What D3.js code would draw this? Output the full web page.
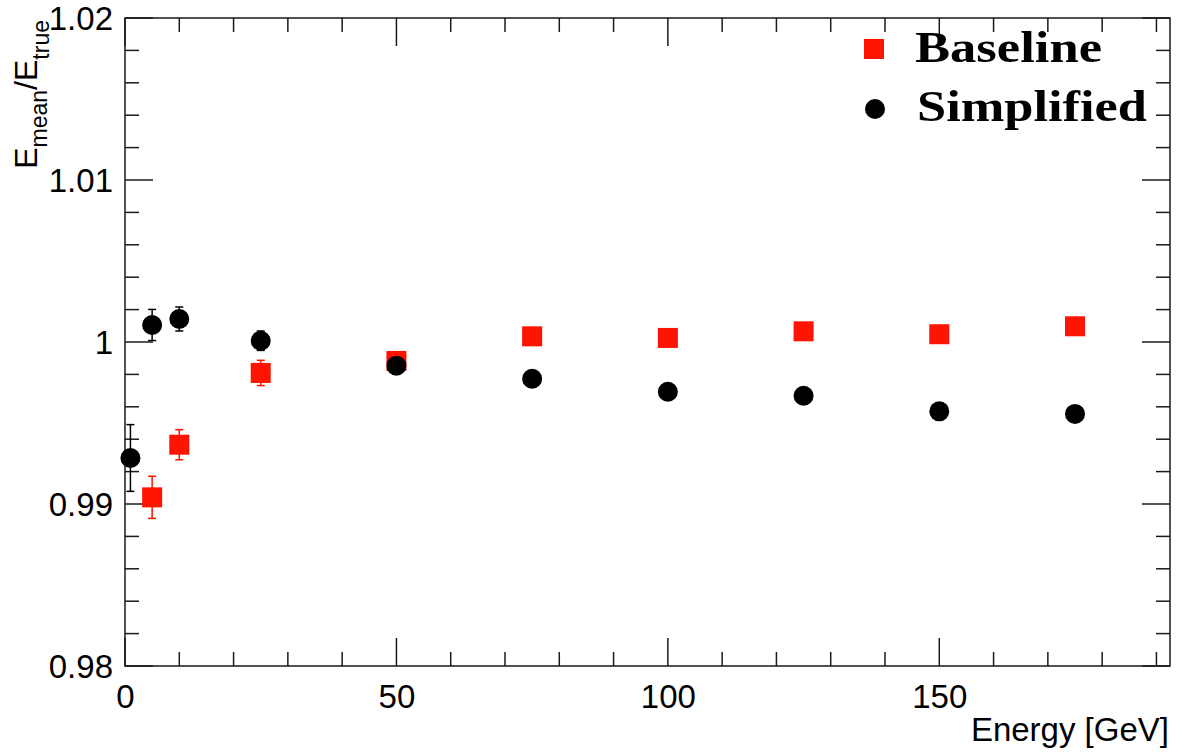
<!DOCTYPE html>
<html>
<head>
<meta charset="utf-8">
<script src="https://cdn.jsdelivr.net/npm/d3@7"></script>
<style>
  html, body { margin: 0; padding: 0; background: #fff; }
  svg { display: block; }
</style>
</head>
<body>
<svg id="chart" width="1178" height="752"></svg>
<script>
// ---- data ----
const simplifiedEnergy = [1, 5, 10, 25, 50, 75, 100, 125, 150, 175];
const simplifiedValue  = [0.99284, 1.00105, 1.00142, 1.00008, 0.99854, 0.99773, 0.99693, 0.99668, 0.99572, 0.99556];
const simplifiedError  = [0.00206, 0.00096, 0.00074, 0.0006, 0.0005, 0.0005, 0.0005, 0.0005, 0.0005, 0.0005];

const baselineEnergy = [5, 10, 25, 50, 75, 100, 125, 150, 175];
const baselineValue  = [0.99041, 0.99366, 0.99809, 0.99883, 1.00035, 1.00025, 1.00066, 1.00048, 1.00097];
const baselineError  = [0.0013, 0.00093, 0.00078, 0.0005, 0.0005, 0.0005, 0.0005, 0.0005, 0.0005];

const xTickLabels = [0, 50, 100, 150];
const yTickLabels = [0.98, 0.99, 1.00, 1.01, 1.02];
const xDomain = [0, 192.5];
const yDomain = [0.98, 1.02];
const seriesNames = ["Baseline", "Simplified"];

// ---- layout ----
const svg = d3.select("#chart");
const L = 125, R = 1170, T = 18, B = 666;
const x = d3.scaleLinear().domain(xDomain).range([L, R]);
const y = d3.scaleLinear().domain(yDomain).range([B, T]);
const red = "#ff1400";
const axisColor = "#1a1a1a";
const sansFont = "'Liberation Sans', Arial, Helvetica, sans-serif";

// frame
svg.append("rect").attr("x", L).attr("y", T).attr("width", R - L).attr("height", B - T)
  .attr("fill", "none").attr("stroke", axisColor).attr("stroke-width", 1.5);

const majorLen = 28, minorLen = 14;
const xMinor = d3.range(0, 192.5, 10);
const yMinor = d3.range(0, 21).map(i => 0.98 + i * 0.002);

function isMajorX(v) { return Math.abs(v % 50) < 1e-9; }
function isMajorY(v) { return Math.abs(Math.round(v * 100) - v * 100) < 1e-6; }

// ticks on all four sides
const gT = svg.append("g").attr("stroke", axisColor).attr("stroke-width", 1.5);
xMinor.forEach(v => {
  const len = isMajorX(v) ? majorLen : minorLen;
  gT.append("line").attr("x1", x(v)).attr("x2", x(v)).attr("y1", B).attr("y2", B - len);
  gT.append("line").attr("x1", x(v)).attr("x2", x(v)).attr("y1", T).attr("y2", T + len);
});
yMinor.forEach(v => {
  const len = isMajorY(v) ? majorLen : minorLen;
  gT.append("line").attr("x1", L).attr("x2", L + len).attr("y1", y(v)).attr("y2", y(v));
  gT.append("line").attr("x1", R).attr("x2", R - len).attr("y1", y(v)).attr("y2", y(v));
});

// axis labels via d3 axes (ticks hidden, labels only)
const xAxis = d3.axisBottom(x).tickValues(xTickLabels).tickSize(0).tickPadding(0).tickFormat(d3.format("d"));
const gx = svg.append("g").attr("transform", `translate(0,${B})`).call(xAxis);
gx.select(".domain").remove();
gx.selectAll("text").attr("font-family", sansFont).attr("font-size", 33).attr("fill", "#000")
  .attr("dy", null).attr("y", 42);

const yAxis = d3.axisLeft(y).tickValues(yTickLabels).tickSize(0).tickPadding(0)
  .tickFormat(d => d === 1 ? "1" : d3.format(".2f")(d));
const gy = svg.append("g").attr("transform", `translate(${L - 12},0)`).call(yAxis);
gy.select(".domain").remove();
gy.selectAll("text").attr("font-family", sansFont).attr("font-size", 33).attr("fill", "#000")
  .attr("dy", "0.36em").attr("x", 0);

// axis titles
svg.append("text").attr("x", 1169).attr("y", 741).attr("text-anchor", "end")
  .attr("font-family", sansFont).attr("font-size", 33).attr("fill", "#000").text("Energy [GeV]");

const yt = svg.append("text").attr("transform", "translate(37,20) rotate(-90)")
  .attr("text-anchor", "end").attr("font-family", sansFont).attr("font-size", 32).attr("fill", "#000");
yt.append("tspan").text("E");
yt.append("tspan").attr("font-size", 23).attr("dy", 10).text("mean");
yt.append("tspan").attr("dy", -10).text("/E");
yt.append("tspan").attr("font-size", 23).attr("dy", 12).text("true");

// error bars + markers
function drawSeries(E, V, Err, color, shape) {
  const g = svg.append("g");
  const cap = 4;
  E.forEach((e, i) => {
    const cx = x(e), y1 = y(V[i] + Err[i]), y2 = y(V[i] - Err[i]);
    g.append("line").attr("x1", cx).attr("x2", cx).attr("y1", y1).attr("y2", y2)
      .attr("stroke", color).attr("stroke-width", 1.5);
    [y1, y2].forEach(yy => g.append("line").attr("x1", cx - cap).attr("x2", cx + cap)
      .attr("y1", yy).attr("y2", yy).attr("stroke", color).attr("stroke-width", 1.5));
  });
  E.forEach((e, i) => {
    if (shape === "square") {
      g.append("rect").attr("x", x(e) - 10).attr("y", y(V[i]) - 10).attr("width", 20).attr("height", 20)
        .attr("fill", color);
    } else {
      g.append("circle").attr("cx", x(e)).attr("cy", y(V[i])).attr("r", 10).attr("fill", color);
    }
  });
}
drawSeries(baselineEnergy, baselineValue, baselineError, red, "square");
drawSeries(simplifiedEnergy, simplifiedValue, simplifiedError, "#000", "circle");

// legend
const serif = "'Liberation Serif', 'Times New Roman', Times, serif";
svg.append("rect").attr("x", 864).attr("y", 39).attr("width", 20).attr("height", 20).attr("fill", red);
svg.append("text").attr("x", 915).attr("y", 62).attr("font-family", serif).attr("font-weight", "bold")
  .attr("font-size", 44).attr("textLength", 187).attr("lengthAdjust", "spacingAndGlyphs").attr("fill", "#000").text(seriesNames[0]);
svg.append("circle").attr("cx", 875).attr("cy", 109).attr("r", 10).attr("fill", "#000");
svg.append("text").attr("x", 917).attr("y", 121).attr("font-family", serif).attr("font-weight", "bold")
  .attr("font-size", 44).attr("textLength", 230).attr("lengthAdjust", "spacingAndGlyphs").attr("fill", "#000").text(seriesNames[1]);
</script>
</body>
</html>
